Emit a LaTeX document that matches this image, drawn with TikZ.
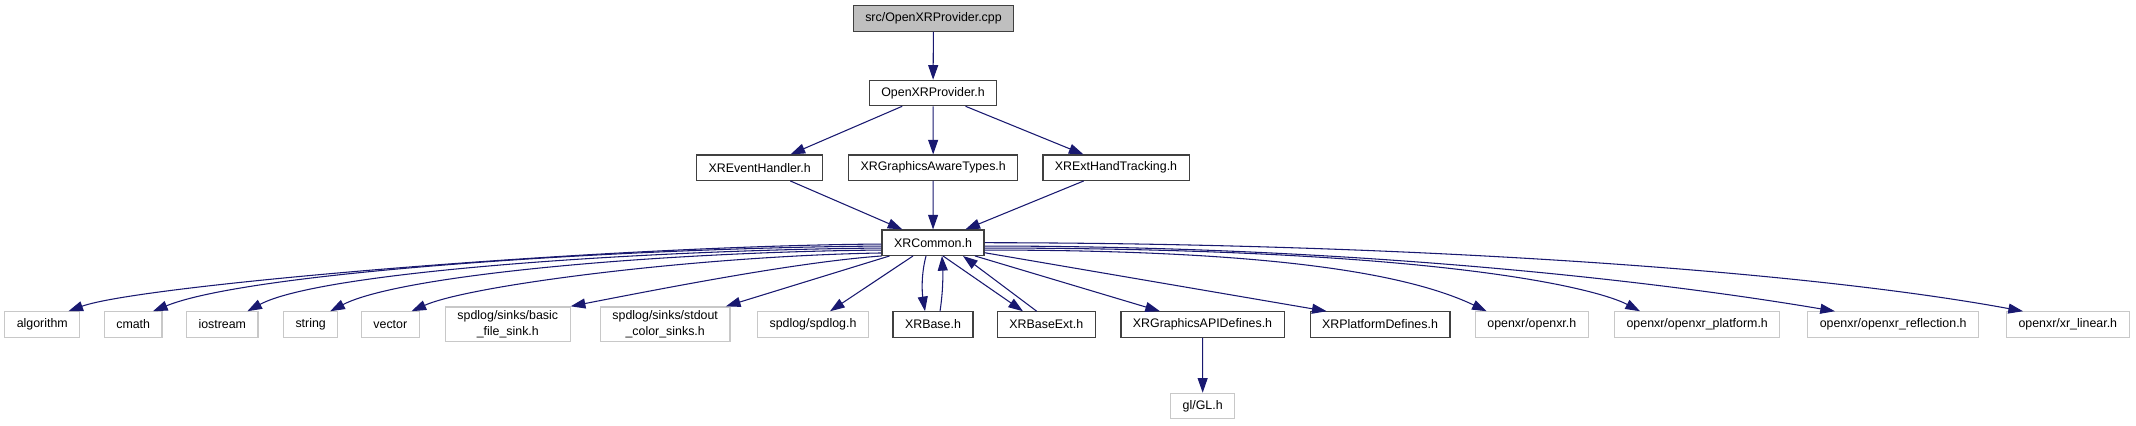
\documentclass[tikz,border=0pt]{standalone}
\usepackage{fontspec}
\setmainfont{Liberation Sans}
\usetikzlibrary{arrows.meta}

\definecolor{edgeblue}{RGB}{25,25,112}
\definecolor{extgray}{RGB}{200,200,200}
\definecolor{srcgray}{RGB}{191,191,191}

\begin{document}
\begin{tikzpicture}[
    x=0.75pt, y=-0.75pt,
    box/.style={rectangle, inner xsep=9pt, inner ysep=3pt, minimum height=19pt, align=center, font=\fontsize{9.3}{11.5}\selectfont},
    src/.style={box, draw=black!75, line width=0.9pt, fill=srcgray},
    hdr/.style={box, draw=black!75, line width=0.9pt},
    ext/.style={box, draw=extgray, line width=0.9pt},
    arrow/.style={-{Triangle[length=11pt,width=7.5pt]}, draw=edgeblue, line width=0.8pt}
]
    \useasboundingbox (0,0) rectangle (2136,425);

    \node[src] (cpp) at (933.5,18.5) {src/OpenXRProvider.cpp};
    \node[hdr] (prov) at (933,93) {OpenXRProvider.h};

    \node[hdr] (evt) at (759.7,167.7) {XREventHandler.h};
    \node[hdr] (gat) at (933.2,167.7) {XRGraphicsAwareTypes.h};
    \node[hdr] (hand) at (1116,167.7) {XRExtHandTracking.h};

    \node[hdr] (common) at (933,242.7) {XRCommon.h};

    \node[ext] (algorithm) at (42.3,324.5) {algorithm};
    \node[ext] (cmath) at (133.2,324.5) {cmath};
    \node[ext] (iostream) at (222.3,324.5) {iostream};
    \node[ext] (string) at (310.7,324.5) {string};
    \node[ext] (vector) at (390.3,324.5) {vector};
    \node[ext] (basicsink) at (507.8,324.3) {spdlog/sinks/basic\\\_file\_sink.h};
    \node[ext] (stdoutsink) at (665.2,324.3) {spdlog/sinks/stdout\\\_color\_sinks.h};
    \node[ext] (spdlog) at (813,324.5) {spdlog/spdlog.h};
    \node[hdr] (xrbase) at (933,324.5) {XRBase.h};
    \node[hdr] (xrbaseext) at (1046.3,324.5) {XRBaseExt.h};
    \node[hdr] (gapidef) at (1202.5,324.5) {XRGraphicsAPIDefines.h};
    \node[hdr] (platdef) at (1380,324.5) {XRPlatformDefines.h};
    \node[ext] (openxr) at (1531.8,324.5) {openxr/openxr.h};
    \node[ext] (oxrplat) at (1697.2,324.5) {openxr/openxr\_platform.h};
    \node[ext] (oxrrefl) at (1893.2,324.5) {openxr/openxr\_reflection.h};
    \node[ext] (xrlinear) at (2067.8,324.5) {openxr/xr\_linear.h};

    \node[ext] (gl) at (1202.7,406) {gl/GL.h};

    \draw[arrow] (cpp) -- (prov);
    \draw[arrow] (prov) -- (evt);
    \draw[arrow] (prov) -- (gat);
    \draw[arrow] (prov) -- (hand);
    \draw[arrow] (evt) -- (common);
    \draw[arrow] (gat) -- (common);
    \draw[arrow] (hand) -- (common);

    \draw[arrow] ([yshift=-1pt]common.west) .. controls (600,246) and (140,285) .. ([xshift=-9pt]algorithm.north east);
    \draw[arrow] ([yshift=-2.5pt]common.west) .. controls (620,248) and (250,272) .. ([xshift=-7.3pt]cmath.north east);
    \draw[arrow] ([yshift=-4pt]common.west) .. controls (640,250) and (320,272) .. ([xshift=-8.5pt]iostream.north east);
    \draw[arrow] ([yshift=-5.5pt]common.west) .. controls (660,252) and (400,275) .. ([xshift=-6.2pt]string.north east);
    \draw[arrow] ([yshift=-7.7pt]common.west) .. controls (700,256) and (470,285) .. ([xshift=-6.2pt]vector.north east);
    \draw[arrow] (common.south west) .. controls (800,262) and (680,285) .. (basicsink.north east);
    \draw[arrow] ([xshift=6pt]common.south west) -- ([xshift=-3.5pt]stdoutsink.north east);
    \draw[arrow] ([xshift=-15pt]common.south) -- ([xshift=12.75pt]spdlog.north);
    \draw[arrow] ([xshift=-5.25pt]common.south) .. controls (921,275) and (922,292) .. ([xshift=-6pt]xrbase.north);
    \draw[arrow] ([xshift=5.25pt]xrbase.north) .. controls (943,292) and (943,275) .. ([xshift=6.75pt]common.south);
    \draw[arrow] ([xshift=7.5pt]common.south) -- ([xshift=-17.5pt]xrbaseext.north);
    \draw[arrow] ([xshift=-7.2pt]xrbaseext.north) -- ([xshift=22.5pt]common.south);
    \draw[arrow] ([xshift=31.5pt]common.south) -- ([xshift=-31.9pt]gapidef.north);
    \draw[arrow] ([yshift=-7.5pt]common.east) -- ([xshift=-40pt]platdef.north);
    \draw[arrow] ([yshift=-5.5pt]common.east) .. controls (1250,250) and (1400,270) .. ([xshift=-33.8pt]openxr.north);
    \draw[arrow] ([yshift=-4pt]common.east) .. controls (1450,248) and (1600,290) .. ([xshift=-42.9pt]oxrplat.north);
    \draw[arrow] ([yshift=-2.5pt]common.east) .. controls (1350,246) and (1650,280) .. ([xshift=-43.7pt]oxrrefl.north);
    \draw[arrow] (common.east) .. controls (1400,243) and (1800,270) .. ([xshift=-33.6pt]xrlinear.north);

    \draw[arrow] (gapidef) -- (gl);
\end{tikzpicture}
\end{document}
